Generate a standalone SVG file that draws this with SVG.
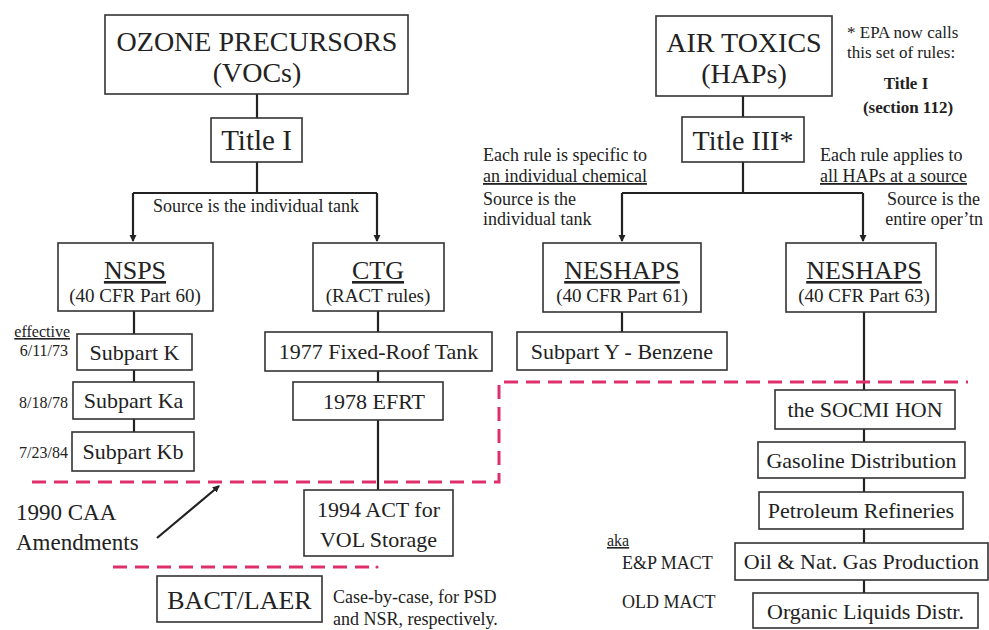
<svg xmlns="http://www.w3.org/2000/svg" width="989" height="630" viewBox="0 0 989 630">
<style>
text{font-family:"Liberation Serif","Times New Roman",serif;fill:#222}
.box{fill:#fff;stroke:#333;stroke-width:1.6}
.t22{font-size:22px;text-anchor:middle}
.big{font-size:28px;text-anchor:middle}
.hd{font-size:26px;text-anchor:middle;text-decoration:underline}
.sub{font-size:19px;text-anchor:middle}
.note{font-size:18px}
.date{font-size:16px;text-anchor:end}
.ln{stroke:#222;stroke-width:2.2;fill:none}
.red{stroke:#e0306a;stroke-width:3;fill:none;stroke-dasharray:14 8}
</style>
<defs>
<marker id="ah" markerWidth="8" markerHeight="8" refX="6" refY="3.5" orient="auto" markerUnits="userSpaceOnUse">
<path d="M0,0 L7,3.5 L0,7 z" fill="#222"/>
</marker>
</defs>
<rect width="989" height="630" fill="#fff"/>

<g id="connectors">
<path class="ln" d="M257 94V118M257 162V193M133 193H377"/>
<path class="ln" d="M133 193V241" marker-end="url(#ah)"/>
<path class="ln" d="M377 193V241" marker-end="url(#ah)"/>
<path class="ln" d="M743 96V117M743 162V193M622 193H863"/>
<path class="ln" d="M622 193V241" marker-end="url(#ah)"/>
<path class="ln" d="M863 193V241" marker-end="url(#ah)"/>
<path class="ln" d="M134 311V334M134 370V382M134 419V432"/>
<path class="ln" d="M378 311V332M378 371V382M378 420V490"/>
<path class="ln" d="M622 312V332"/>
<path class="ln" d="M864 312V390M864 429V442M864 478V492M864 529V543M864 580V593"/>
<path class="ln" d="M157 538L219 486" stroke-width="2.4" marker-end="url(#ah)"/>
</g>

<g id="boundaries">
<path class="red" d="M32 482H499V382H968"/>
<path class="red" d="M113 567H370"/>
<circle cx="377" cy="567" r="1.6" fill="#e0306a"/>
</g>

<g id="ozone">
<rect class="box" x="105" y="15" width="303" height="79"/>
<text class="big" x="257" y="51">OZONE PRECURSORS</text>
<text class="big" x="257" y="82">(VOCs)</text>
</g>
<g id="title1">
<rect class="box" x="211" y="118" width="91" height="44"/>
<text class="big" x="256.5" y="150" style="font-size:29px">Title I</text>
</g>
<g id="airtoxics">
<rect class="box" x="656" y="16" width="176" height="80"/>
<text class="big" x="744" y="52">AIR TOXICS</text>
<text class="big" x="744" y="83">(HAPs)</text>
</g>
<g id="title3">
<rect class="box" x="682" y="117" width="122" height="45"/>
<text class="big" x="743" y="150">Title III*</text>
</g>

<g id="nsps">
<rect class="box" x="58" y="243" width="155" height="68"/>
<text class="hd" x="135" y="279">NSPS</text>
<text class="sub" x="135" y="302">(40 CFR Part 60)</text>
</g>
<g id="ctg">
<rect class="box" x="313" y="243" width="131" height="68"/>
<text class="hd" x="378" y="279">CTG</text>
<text class="sub" x="378" y="302">(RACT rules)</text>
</g>
<g id="neshaps61">
<rect class="box" x="543" y="243" width="158" height="69"/>
<text class="hd" x="622" y="279">NESHAPS</text>
<text class="sub" x="622" y="302">(40 CFR Part 61)</text>
</g>
<g id="neshaps63">
<rect class="box" x="786" y="243" width="150" height="69"/>
<text class="hd" x="864" y="279">NESHAPS</text>
<text class="sub" x="864" y="302">(40 CFR Part 63)</text>
</g>

<g id="subk"><rect class="box" x="77" y="334" width="115" height="36"/><text class="t22" x="134.5" y="360">Subpart K</text></g>
<g id="subka"><rect class="box" x="73" y="382" width="121" height="37"/><text class="t22" x="133.5" y="408">Subpart Ka</text></g>
<g id="subkb"><rect class="box" x="72" y="432" width="122" height="39"/><text class="t22" x="133" y="459">Subpart Kb</text></g>
<g id="fixedroof"><rect class="box" x="265" y="332" width="227" height="39"/><text class="t22" x="378.5" y="359">1977 Fixed-Roof Tank</text></g>
<g id="efrt"><rect class="box" x="293" y="382" width="150" height="38"/><text class="t22" x="374" y="409">1978 EFRT</text></g>
<g id="act1994"><rect class="box" x="304" y="490" width="149" height="66"/><text class="t22" x="378.5" y="517">1994 ACT for</text><text class="t22" x="378.5" y="547">VOL Storage</text></g>
<g id="bact"><rect class="box" x="157" y="576" width="165" height="46"/><text class="hd" x="239.5" y="609" style="text-decoration:none">BACT/LAER</text></g>
<g id="subparty"><rect class="box" x="517" y="332" width="210" height="38"/><text class="t22" x="622" y="359">Subpart Y - Benzene</text></g>
<g id="socmi"><rect class="box" x="775" y="390" width="180" height="39"/><text class="t22" x="865" y="417">the SOCMI HON</text></g>
<g id="gasoline"><rect class="box" x="758" y="442" width="207" height="36"/><text class="t22" x="861.5" y="468">Gasoline Distribution</text></g>
<g id="petroleum"><rect class="box" x="759" y="492" width="204" height="37"/><text class="t22" x="861" y="518">Petroleum Refineries</text></g>
<g id="oilgas"><rect class="box" x="735" y="543" width="253" height="37"/><text class="t22" x="861.5" y="569">Oil &amp; Nat. Gas Production</text></g>
<g id="organic"><rect class="box" x="753" y="593" width="225" height="35"/><text class="t22" x="865.5" y="619">Organic Liquids Distr.</text></g>

<g id="annotations">
<text class="note" x="256" y="212" text-anchor="middle">Source is the individual tank</text>
<text class="note" x="483" y="161">Each rule is specific to</text>
<text class="note" x="483" y="182" text-decoration="underline">an individual chemical</text>
<text class="note" x="483" y="205">Source is the</text>
<text class="note" x="483" y="225">individual tank</text>
<text class="note" x="820" y="161">Each rule applies to</text>
<text class="note" x="820" y="182" text-decoration="underline">all HAPs at a source</text>
<text class="note" x="980" y="205" text-anchor="end">Source is the</text>
<text class="note" x="983" y="225" text-anchor="end">entire oper’tn</text>
<text class="note" x="847" y="38" style="font-size:17px">* EPA now calls</text>
<text class="note" x="847" y="58" style="font-size:17px">this set of rules:</text>
<text class="note" x="906" y="89" text-anchor="middle" font-weight="bold" style="font-size:17px">Title I</text>
<text class="note" x="908" y="113" text-anchor="middle" font-weight="bold" style="font-size:17px">(section 112)</text>
<text class="date" x="70" y="337" text-decoration="underline">effective</text>
<text class="date" x="68" y="356">6/11/73</text>
<text class="date" x="68" y="408">8/18/78</text>
<text class="date" x="68" y="458">7/23/84</text>
<text x="16" y="520" style="font-size:23px">1990 CAA</text>
<text x="16" y="550" style="font-size:23px">Amendments</text>
<text class="note" x="333" y="603">Case-by-case, for PSD</text>
<text class="note" x="333" y="625">and NSR, respectively.</text>
<text x="607" y="546" style="font-size:16px;text-anchor:start" text-decoration="underline">aka</text>
<text class="note" x="622" y="569">E&amp;P MACT</text>
<text class="note" x="622" y="608">OLD MACT</text>
</g>
</svg>
